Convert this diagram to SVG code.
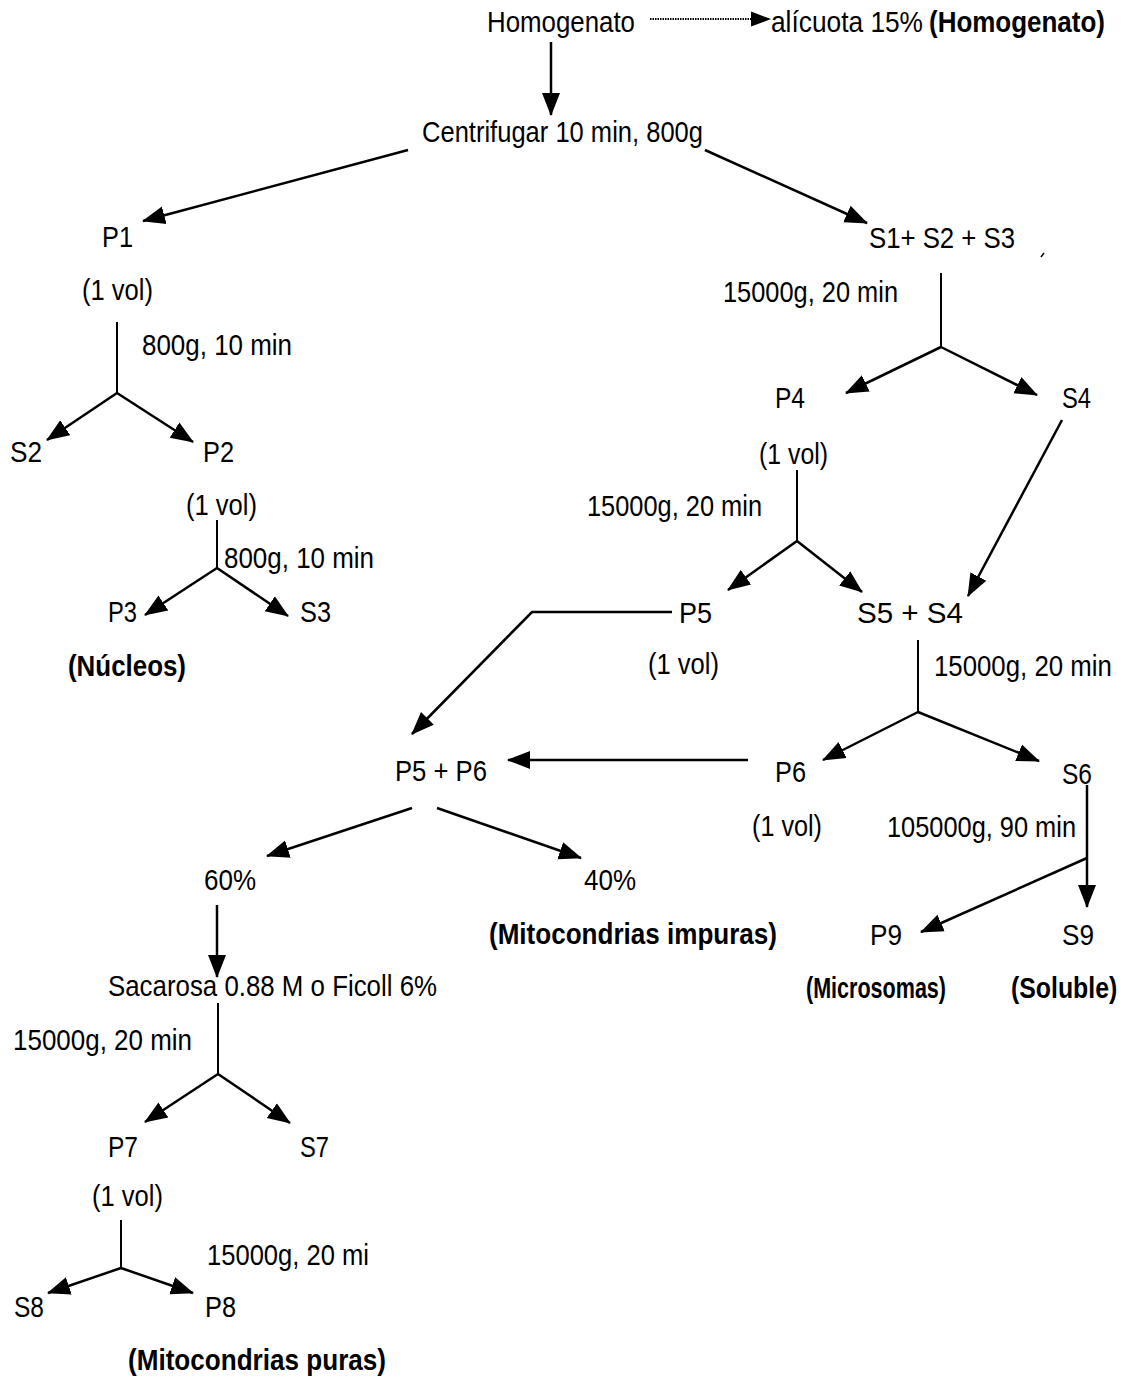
<svg xmlns="http://www.w3.org/2000/svg" width="1129" height="1378" viewBox="0 0 1129 1378">
<style>
text{font-family:"Liberation Sans",Arial,sans-serif;font-size:30px;fill:#000}
.b{font-weight:bold}
.c{stroke:#000;stroke-width:2.5;fill:none}
.s{stroke:#000;stroke-width:2;fill:none}
.a{marker-end:url(#ah)}
</style>
<defs>
<marker id="ah" markerUnits="userSpaceOnUse" markerWidth="23" markerHeight="20" viewBox="0 0 23 20" refX="22" refY="10" orient="auto">
<path d="M0,1 L23,10 L0,19 z" fill="#000"/>
</marker>
<marker id="ahs" markerUnits="userSpaceOnUse" markerWidth="20" markerHeight="16" viewBox="0 0 20 16" refX="19" refY="8" orient="auto">
<path d="M0,0.5 L20,8 L0,15.5 z" fill="#000"/>
</marker>
</defs>
<rect width="1129" height="1378" fill="#fff"/>

<g id="connectors">
<line x1="650" y1="19" x2="770" y2="19" stroke="#000" stroke-width="2" stroke-dasharray="1.5 1" marker-end="url(#ahs)"/>
<line class="c a" x1="551" y1="42" x2="551" y2="115"/>
<line class="c a" x1="408" y1="150" x2="143" y2="221"/>
<line class="c a" x1="705" y1="150" x2="867" y2="223"/>
<line x1="1041" y1="257" x2="1044" y2="253" stroke="#000" stroke-width="1.5"/>
<line class="s" x1="941" y1="273" x2="941" y2="347"/>
<line class="c a" x1="941" y1="347" x2="846" y2="393"/>
<line class="c a" x1="941" y1="347" x2="1037" y2="395"/>
<line class="s" x1="117" y1="322" x2="117" y2="393"/>
<line class="c a" x1="117" y1="393" x2="47" y2="440"/>
<line class="c a" x1="117" y1="393" x2="193" y2="442"/>
<line class="s" x1="217" y1="520" x2="217" y2="568"/>
<line class="c a" x1="217" y1="568" x2="145" y2="615"/>
<line class="c a" x1="217" y1="568" x2="288" y2="616"/>
<line class="s" x1="797" y1="470" x2="797" y2="541"/>
<line class="c a" x1="797" y1="541" x2="728" y2="590"/>
<line class="c a" x1="797" y1="541" x2="862" y2="592"/>
<line class="c a" x1="1062" y1="420" x2="968" y2="596"/>
<polyline class="c a" points="672,612 532,612 412,734"/>
<line class="s" x1="918" y1="640" x2="918" y2="712"/>
<line class="c a" x1="918" y1="712" x2="823" y2="760"/>
<line class="c a" x1="918" y1="712" x2="1039" y2="761"/>
<line class="c a" x1="748" y1="760" x2="508" y2="760"/>
<line class="c a" x1="1087" y1="785" x2="1087" y2="907"/>
<line class="c a" x1="1087" y1="858" x2="921" y2="932"/>
<line class="c a" x1="412" y1="808" x2="267" y2="856"/>
<line class="c a" x1="437" y1="808" x2="581" y2="858"/>
<line class="c a" x1="217" y1="905" x2="217" y2="977"/>
<line class="s" x1="218" y1="1003" x2="218" y2="1074"/>
<line class="c a" x1="218" y1="1074" x2="145" y2="1122"/>
<line class="c a" x1="218" y1="1074" x2="290" y2="1123"/>
<line class="s" x1="121" y1="1220" x2="121" y2="1268"/>
<line class="c a" x1="121" y1="1268" x2="48" y2="1293"/>
<line class="c a" x1="121" y1="1268" x2="193" y2="1293"/>
</g>

<g id="homogenato"><text x="487" y="32" textLength="148" lengthAdjust="spacingAndGlyphs">Homogenato</text></g>
<g id="alicuota"><text x="771" y="32" textLength="152" lengthAdjust="spacingAndGlyphs">alícuota 15%</text><text class="b" x="0" y="0" transform="translate(929,32) scale(0.866,1)">(Homogenato)</text></g>
<g id="centrifugar"><text x="422" y="142" textLength="281" lengthAdjust="spacingAndGlyphs">Centrifugar 10 min, 800g</text></g>
<g id="p1"><text x="102" y="247" textLength="31" lengthAdjust="spacingAndGlyphs">P1</text><text x="82" y="300" textLength="71" lengthAdjust="spacingAndGlyphs">(1 vol)</text></g>
<g id="s1s2s3"><text x="869" y="248" textLength="146" lengthAdjust="spacingAndGlyphs">S1+ S2 + S3</text></g>
<g id="lbl1"><text x="723" y="302" textLength="175" lengthAdjust="spacingAndGlyphs">15000g, 20 min</text></g>
<g id="lbl2"><text x="142" y="355" textLength="150" lengthAdjust="spacingAndGlyphs">800g, 10 min</text></g>
<g id="p4"><text x="775" y="408" textLength="30" lengthAdjust="spacingAndGlyphs">P4</text><text x="759" y="464" textLength="69" lengthAdjust="spacingAndGlyphs">(1 vol)</text></g>
<g id="s4"><text x="1062" y="408" textLength="29" lengthAdjust="spacingAndGlyphs">S4</text></g>
<g id="s2"><text x="10" y="462" textLength="32" lengthAdjust="spacingAndGlyphs">S2</text></g>
<g id="p2"><text x="203" y="462" textLength="31" lengthAdjust="spacingAndGlyphs">P2</text><text x="186" y="515" textLength="71" lengthAdjust="spacingAndGlyphs">(1 vol)</text></g>
<g id="lbl3"><text x="587" y="516" textLength="175" lengthAdjust="spacingAndGlyphs">15000g, 20 min</text></g>
<g id="lbl4"><text x="224" y="568" textLength="150" lengthAdjust="spacingAndGlyphs">800g, 10 min</text></g>
<g id="p3"><text x="108" y="622" textLength="29" lengthAdjust="spacingAndGlyphs">P3</text><text class="b" x="68" y="676" textLength="118" lengthAdjust="spacingAndGlyphs">(Núcleos)</text></g>
<g id="s3"><text x="300" y="622" textLength="31" lengthAdjust="spacingAndGlyphs">S3</text></g>
<g id="p5"><text x="679" y="623" textLength="33" lengthAdjust="spacingAndGlyphs">P5</text><text x="648" y="674" textLength="71" lengthAdjust="spacingAndGlyphs">(1 vol)</text></g>
<g id="s5s4"><text x="857" y="623" textLength="106" lengthAdjust="spacingAndGlyphs">S5 + S4</text></g>
<g id="lbl5"><text x="0" y="0" transform="translate(934,676) scale(0.86,1)">15000g, 20 min</text></g>
<g id="p5p6"><text x="395" y="781" textLength="92" lengthAdjust="spacingAndGlyphs">P5 + P6</text></g>
<g id="p6"><text x="775" y="782" textLength="31" lengthAdjust="spacingAndGlyphs">P6</text><text x="752" y="836" textLength="70" lengthAdjust="spacingAndGlyphs">(1 vol)</text></g>
<g id="s6"><text x="1062" y="784" textLength="30" lengthAdjust="spacingAndGlyphs">S6</text></g>
<g id="lbl6"><text x="887" y="837" textLength="189" lengthAdjust="spacingAndGlyphs">105000g, 90 min</text></g>
<g id="p60"><text x="204" y="890" textLength="52" lengthAdjust="spacingAndGlyphs">60%</text></g>
<g id="p40"><text x="584" y="890" textLength="52" lengthAdjust="spacingAndGlyphs">40%</text><text class="b" x="489" y="944" textLength="288" lengthAdjust="spacingAndGlyphs">(Mitocondrias impuras)</text></g>
<g id="p9"><text x="870" y="945" textLength="32" lengthAdjust="spacingAndGlyphs">P9</text><text class="b" x="806" y="998" textLength="140" lengthAdjust="spacingAndGlyphs">(Microsomas)</text></g>
<g id="s9"><text x="1062" y="945" textLength="32" lengthAdjust="spacingAndGlyphs">S9</text><text class="b" x="0" y="0" transform="translate(1011,998) scale(0.828,1)">(Soluble)</text></g>
<g id="sacarosa"><text x="108" y="996" textLength="329" lengthAdjust="spacingAndGlyphs">Sacarosa 0.88 M o Ficoll 6%</text></g>
<g id="lbl7"><text x="13" y="1050" textLength="179" lengthAdjust="spacingAndGlyphs">15000g, 20 min</text></g>
<g id="p7"><text x="108" y="1157" textLength="30" lengthAdjust="spacingAndGlyphs">P7</text><text x="92" y="1206" textLength="71" lengthAdjust="spacingAndGlyphs">(1 vol)</text></g>
<g id="s7"><text x="300" y="1157" textLength="29" lengthAdjust="spacingAndGlyphs">S7</text></g>
<g id="lbl8"><text x="207" y="1265" textLength="162" lengthAdjust="spacingAndGlyphs">15000g, 20 mi</text></g>
<g id="s8"><text x="14" y="1317" textLength="30" lengthAdjust="spacingAndGlyphs">S8</text></g>
<g id="p8"><text x="205" y="1317" textLength="31" lengthAdjust="spacingAndGlyphs">P8</text><text class="b" x="128" y="1370" textLength="258" lengthAdjust="spacingAndGlyphs">(Mitocondrias puras)</text></g>
</svg>
